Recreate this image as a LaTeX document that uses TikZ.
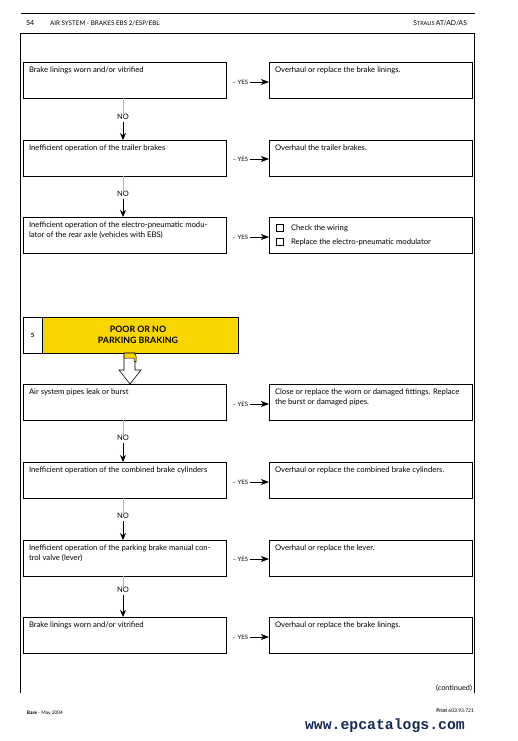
\documentclass[tikz,border=0pt]{standalone}
\usepackage{fontspec}
\setmainfont{Lato}
\newfontfamily\monofont{Liberation Mono}
\usetikzlibrary{arrows.meta}
\definecolor{titleyellow}{RGB}{250,214,0}
\definecolor{wmcolor}{RGB}{22,42,86}
\begin{document}
\begin{tikzpicture}[x=1pt,y=-1pt,
  every node/.style={inner sep=0pt, outer sep=0pt},
  qbox/.style={draw, line width=0.8pt, minimum width=203pt, minimum height=36pt, anchor=north west},
  qtext/.style={anchor=north west, align=left, font=\fontsize{7.7}{10}\selectfont},
  yeslab/.style={font=\fontsize{6}{7}\selectfont, anchor=east},
  nolab/.style={font=\fontsize{7.5}{8}\selectfont},
  conn/.style={line width=0.8pt, -{Stealth[length=7pt,width=6pt]}},
  yesconn/.style={line width=0.8pt, -{Stealth[length=8pt,width=6pt,inset=2pt]}},
  tick/.style={line width=0.4pt, gray!60},
  hdr/.style={font=\fontsize{6.3}{7}\selectfont, anchor=base west},
  frame/.style={line width=0.9pt},
  ckbox/.style={draw, line width=0.6pt, minimum width=6.5pt, minimum height=6.5pt, anchor=center}
]
\useasboundingbox[fill=white] (0,0) rectangle (517,741);

% header
\draw[frame] (21,13) -- (475,13);
\draw[frame] (21,33) -- (475,33);
\node[hdr] (pg) at (26,26) {\fontsize{7}{8}\selectfont 54};
\node[hdr] (sec) at (50,26) {AIR SYSTEM - BRAKES EBS 2/ESP/EBL};
\node[hdr, anchor=base east] (mdl) at (467,26) {\fontsize{6.8}{8}\selectfont S\fontsize{5.4}{6}\selectfont TRALIS \fontsize{6.8}{8}\selectfont AT/AD/AS};

% frame
\draw[frame] (20,33) -- (20,693);
\draw[frame] (474,33) -- (474,693);

% ---------- upper group ----------
\node[qbox] (L1) at (23,62) {};
\node[qbox] (R1) at (269,62) {};
\node[qtext] (tL1) at (29,66.5) {Brake linings worn and/or vitrified};
\node[qtext] (tR1) at (275,66.5) {Overhaul or replace the brake linings.};

\node[qbox] (L2) at (23,140) {};
\node[qbox] (R2) at (269,140) {};
\node[qtext] (tL2) at (29,144.5) {Inefficient operation of the trailer brakes};
\node[qtext] (tR2) at (275,144.5) {Overhaul the trailer brakes.};

\node[qbox] (L3) at (23,217) {};
\node[qbox] (R3) at (269,217) {};
\node[qtext] (tL3) at (29,221.5) {Inefficient operation of the electro-pneumatic modu-\\lator of the rear axle (vehicles with EBS)};
\node[ckbox] (c1) at (280,228) {};
\node[ckbox] (c2) at (280,242) {};
\draw[line width=1.1pt] (c1.south west) -- (c1.south east) -- (c1.north east);
\draw[line width=1.1pt] (c2.south west) -- (c2.south east) -- (c2.north east);
\node[qtext, anchor=west] (tR3a) at (291,228) {Check the wiring};
\node[qtext, anchor=west] (tR3b) at (291,242) {Replace the electro-pneumatic modulator};

% YES connectors upper
\node[yeslab] (y1) at (248,82) {– YES};
\draw[yesconn] ([xshift=2pt]y1.east) -- (y1.east -| R1.west);
\node[yeslab] (y2) at (248,159) {– YES};
\draw[yesconn] ([xshift=2pt]y2.east) -- (y2.east -| R2.west);
\node[yeslab] (y3) at (248,237) {– YES};
\draw[yesconn] ([xshift=2pt]y3.east) -- (y3.east -| R3.west);

% NO connectors upper
\node[nolab] (n1) at (123,117) {NO};
\draw[tick] (n1.north |- L1.south) -- (n1.north);
\draw[conn] ([yshift=-2pt]n1.south) -- (n1.south |- L2.north);
\node[nolab] (n2) at (123,194) {NO};
\draw[tick] (n2.north |- L2.south) -- (n2.north);
\draw[conn] ([yshift=-2pt]n2.south) -- (n2.south |- L3.north);

% ---------- title ----------
\node[draw, line width=0.8pt, fill=white, minimum width=19pt, minimum height=36pt, anchor=north west] (num) at (23,317) {};
\node[draw, line width=0.8pt, fill=titleyellow, minimum width=196pt, minimum height=36pt, anchor=north west] (title) at (42,317) {};
\node[font=\fontsize{6}{7}\bfseries\selectfont] (numt) at (num.center) {5};
\node[align=center, font=\fontsize{8.8}{11}\bfseries\selectfont] (titlet) at ([xshift=-2pt]title.center) {POOR OR NO\\PARKING BRAKING};

% hollow arrow
\draw[line width=0.6pt, fill=white] (124,353) -- (135,353) -- (135,370) -- (141,370) -- (130,384) -- (119,370) -- (124,370) -- cycle;
\draw[line width=0.5pt, fill=titleyellow] (124,353) -- (134,353) -- (136,356) -- (136,362) -- (134,361) -- (134,358) -- (124,358) -- cycle;

% ---------- lower group ----------
\node[qbox] (L4) at (23,384) {};
\node[qbox] (R4) at (269,384) {};
\node[qtext] (tL4) at (29,388.5) {Air system pipes leak or burst};
\node[qtext] (tR4) at (275,388.5) {Close or replace the worn or damaged fittings. Replace\\the burst or damaged pipes.};

\node[qbox] (L5) at (23,462) {};
\node[qbox] (R5) at (269,462) {};
\node[qtext] (tL5) at (29,466.5) {Inefficient operation of the combined brake cylinders};
\node[qtext] (tR5) at (275,466.5) {Overhaul or replace the combined brake cylinders.};

\node[qbox] (L6) at (23,540) {};
\node[qbox] (R6) at (269,540) {};
\node[qtext] (tL6) at (29,544.5) {Inefficient operation of the parking brake manual con-\\trol valve (lever)};
\node[qtext] (tR6) at (275,544.5) {Overhaul or replace the lever.};

\node[qbox] (L7) at (23,617) {};
\node[qbox] (R7) at (269,617) {};
\node[qtext] (tL7) at (29,621.5) {Brake linings worn and/or vitrified};
\node[qtext] (tR7) at (275,621.5) {Overhaul or replace the brake linings.};

% YES connectors lower
\node[yeslab] (y4) at (248,404) {– YES};
\draw[yesconn] ([xshift=2pt]y4.east) -- (y4.east -| R4.west);
\node[yeslab] (y5) at (248,482) {– YES};
\draw[yesconn] ([xshift=2pt]y5.east) -- (y5.east -| R5.west);
\node[yeslab] (y6) at (248,559) {– YES};
\draw[yesconn] ([xshift=2pt]y6.east) -- (y6.east -| R6.west);
\node[yeslab] (y7) at (248,637) {– YES};
\draw[yesconn] ([xshift=2pt]y7.east) -- (y7.east -| R7.west);

% NO connectors lower
\node[nolab] (n4) at (123,438) {NO};
\draw[tick] (n4.north |- L4.south) -- (n4.north);
\draw[conn] ([yshift=-2pt]n4.south) -- (n4.south |- L5.north);
\node[nolab] (n5) at (123,516) {NO};
\draw[tick] (n5.north |- L5.south) -- (n5.north);
\draw[conn] ([yshift=-2pt]n5.south) -- (n5.south |- L6.north);
\node[nolab] (n6) at (123,590) {NO};
\draw[tick] (n6.north |- L6.south) -- (n6.north);
\draw[conn] ([yshift=-2pt]n6.south) -- (n6.south |- L7.north);

% footer
\node[font=\fontsize{7.3}{8}\selectfont, anchor=base east] (cont) at (472,690) {(continued)};
\node[font=\fontsize{4.8}{5}\selectfont, anchor=base west] (base) at (27,714) {\textbf{Base} - May 2004};
\node[font=\fontsize{5}{6}\selectfont, anchor=base east] (print) at (474,712) {\textbf{Print} 603.93.721};
\node[font=\monofont\bfseries\fontsize{14.8}{16}\selectfont, text=wmcolor, anchor=base west] (wm) at (305,729) {www.epcatalogs.com};
\end{tikzpicture}
\end{document}
